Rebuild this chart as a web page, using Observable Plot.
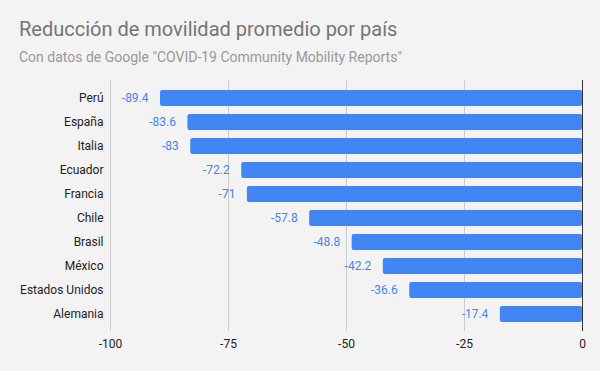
<!DOCTYPE html>
<html><head><meta charset="utf-8">
<script src="https://cdn.jsdelivr.net/npm/d3@7"></script>
<script src="https://cdn.jsdelivr.net/npm/@observablehq/plot@0.6"></script>
<style>
html,body{margin:0;padding:0;background:#f3f3f3;}
#wrap{position:relative;width:600px;height:371px;font-family:Roboto,sans-serif;}
#title{position:absolute;left:19px;top:17px;font-size:20px;color:#757575;white-space:nowrap;}
#subtitle{position:absolute;left:19px;top:49px;font-size:14px;color:#999999;white-space:nowrap;}
#chart{position:absolute;left:0;top:0;}
</style></head>
<body>
<div id="wrap"><div id="chart"></div><div id="title">Reducción de movilidad promedio por país</div><div id="subtitle">Con datos de Google "COVID-19 Community Mobility Reports"</div></div>
<script>
const countries = ["Perú","España","Italia","Ecuador","Francia","Chile","Brasil","México","Estados Unidos","Alemania"];
const values = [-89.4,-83.6,-83,-72.2,-71,-57.8,-48.8,-42.2,-36.6,-17.4];
const xTicks = [-100,-75,-50,-25,0];
const data = countries.map((c,i)=>({country:c, value:values[i]}));

const chart = Plot.plot({
  width:600, height:371,
  marginTop:80, marginBottom:40, marginLeft:110, marginRight:18,
  style:{background:"transparent", fontFamily:"Roboto, sans-serif", fontSize:"12px", color:"#222"},
  x:{domain:[-100,0], ticks:xTicks, tickSize:0, tickPadding:8, label:null, tickFormat:d=>String(d)},
  y:{domain:countries, paddingInner:0.34, paddingOuter:0.17, insetTop:4, insetBottom:4, tickSize:0, tickPadding:7, label:null},
  marks:[
    Plot.ruleX(xTicks.filter(d=>d!==0), {stroke:"#cccccc", strokeWidth:1}),
    Plot.barX(data, {x1:"value", x2:0, y:"country", fill:"#4285f4", rx:2}),
    Plot.ruleX([0], {stroke:"#333333", strokeWidth:1}),
    Plot.text(data, {x:"value", y:"country", text:d=>String(d.value), textAnchor:"end", dx:-12, fill:"#4285f4", fontSize:12})
  ]
});
document.getElementById("chart").appendChild(chart);
</script>
</body></html>
